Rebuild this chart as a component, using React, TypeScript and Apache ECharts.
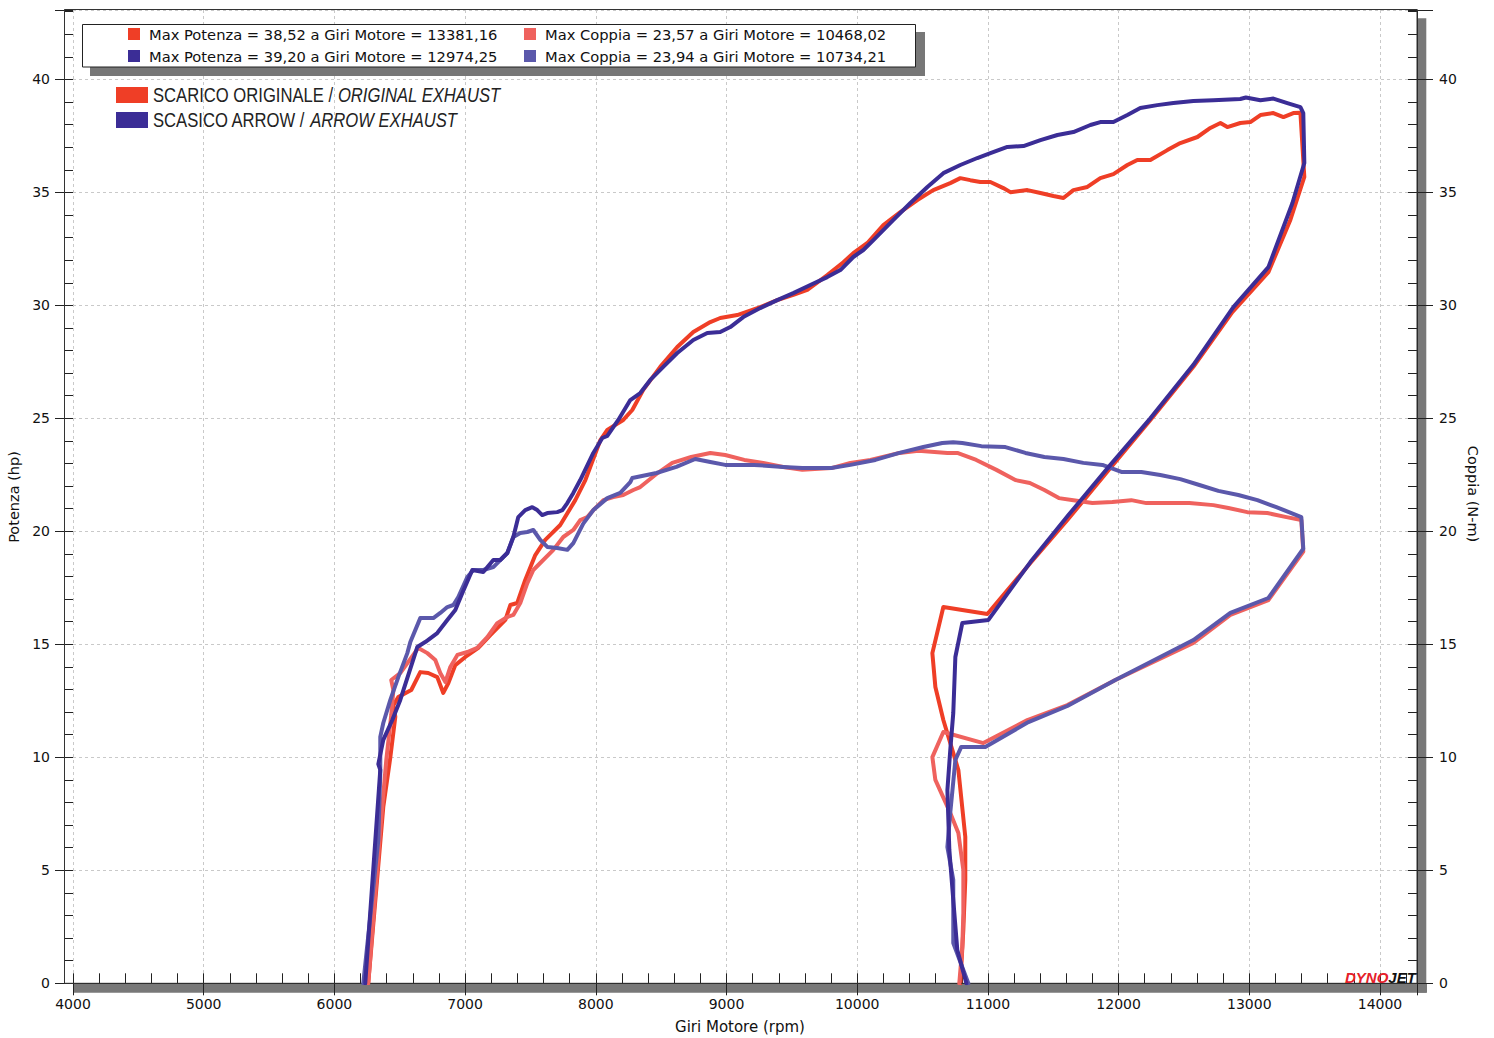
import React, { useEffect, useRef } from 'react';
import * as echarts from 'echarts';

// [rpm, value] pairs (dyno runs: ascending sweep then return)
const powerOriginal: [number, number][] = [
  [6259, 0], [6374, 7.8], [6428, 10.0], [6466, 11.8], [6451, 12.3], [6489, 12.67], [6588, 12.98], [6657, 13.77],
  [6718, 13.73], [6787, 13.55], [6833, 12.85], [6872, 13.29], [6925, 14.08], [7002, 14.44], [7101, 14.84],
  [7193, 15.41], [7308, 16.08], [7346, 16.74], [7399, 16.83], [7460, 17.85], [7537, 18.95], [7613, 19.62],
  [7728, 20.28], [7843, 21.38], [7920, 22.27], [8035, 24.04], [8088, 24.49], [8210, 24.93], [8279, 25.37],
  [8363, 26.26], [8493, 27.28], [8623, 28.16], [8746, 28.82], [8876, 29.26], [8952, 29.44], [9082, 29.57],
  [9258, 29.92], [9388, 30.23], [9511, 30.46], [9618, 30.68], [9771, 31.34], [9894, 31.91], [9970, 32.31],
  [10078, 32.76], [10200, 33.55], [10330, 34.13], [10460, 34.66], [10582, 35.1], [10712, 35.41], [10789, 35.63],
  [10865, 35.54], [10942, 35.46], [11019, 35.46], [11118, 35.19], [11172, 35.01], [11302, 35.1], [11402, 34.97],
  [11501, 34.84], [11578, 34.75], [11654, 35.1], [11761, 35.24], [11860, 35.63], [11960, 35.81], [12067, 36.21],
  [12143, 36.43], [12243, 36.43], [12373, 36.87], [12472, 37.18], [12603, 37.45], [12702, 37.85], [12779, 38.07],
  [12832, 37.89], [12931, 38.07], [13008, 38.11], [13085, 38.42], [13184, 38.51], [13261, 38.33], [13337, 38.51],
  [13391, 38.52], [13421, 35.68], [13314, 33.78], [13146, 31.47], [12870, 29.7], [12572, 27.28], [12243, 24.93],
  [11937, 22.8], [11608, 20.5], [11325, 18.6], [10996, 16.34], [10659, 16.65], [10575, 14.61], [10598, 13.11],
  [10659, 11.65], [10774, 9.44], [10827, 6.48], [10827, 4.58], [10812, 2.36], [10789, 0],
];

const powerArrow: [number, number][] = [
  [6236, 0], [6351, 9.44], [6336, 9.7], [6374, 10.77], [6443, 11.65], [6504, 12.54], [6634, 14.88], [6695, 15.1],
  [6787, 15.5], [6864, 16.08], [6925, 16.52], [6979, 17.27], [7055, 18.29], [7139, 18.2], [7216, 18.73],
  [7269, 18.73], [7323, 19.04], [7369, 19.75], [7407, 20.63], [7460, 20.94], [7514, 21.07], [7552, 20.94],
  [7590, 20.72], [7629, 20.81], [7705, 20.85], [7744, 20.94], [7782, 21.25], [7828, 21.7], [7881, 22.27],
  [7981, 23.47], [8050, 24.13], [8088, 24.22], [8172, 24.93], [8264, 25.81], [8340, 26.12], [8417, 26.7],
  [8516, 27.28], [8623, 27.89], [8746, 28.47], [8853, 28.78], [8952, 28.82], [9029, 29.04], [9128, 29.48],
  [9258, 29.88], [9388, 30.23], [9511, 30.54], [9641, 30.9], [9771, 31.25], [9871, 31.56], [9970, 32.14],
  [10047, 32.45], [10124, 32.89], [10277, 33.78], [10407, 34.53], [10537, 35.24], [10659, 35.85], [10789, 36.21],
  [10919, 36.52], [11019, 36.74], [11149, 37.01], [11272, 37.05], [11402, 37.31], [11532, 37.54], [11654, 37.67],
  [11784, 37.98], [11860, 38.11], [11960, 38.11], [12067, 38.42], [12166, 38.73], [12296, 38.86], [12419, 38.95],
  [12572, 39.04], [12725, 39.08], [12931, 39.13], [12974, 39.2], [13085, 39.08], [13184, 39.15], [13291, 38.95],
  [13391, 38.77], [13413, 38.51], [13421, 36.3], [13330, 34.53], [13146, 31.69], [12878, 29.92], [12572, 27.37],
  [12243, 25.0], [11937, 22.94], [11616, 20.72], [11325, 18.64], [11004, 16.08], [10804, 15.94], [10751, 14.44],
  [10735, 11.96], [10712, 10.32], [10690, 8.55], [10705, 5.9], [10735, 3.69], [10766, 1.47], [10835, 0],
];

const torqueOriginal: [number, number][] = [
  [6259, 0], [6351, 6.78], [6397, 9.88], [6435, 11.87], [6451, 12.98], [6435, 13.42], [6504, 13.73], [6642, 14.84],
  [6711, 14.61], [6772, 14.31], [6810, 13.73], [6849, 13.33], [6887, 14.0], [6941, 14.53], [7017, 14.66],
  [7093, 14.84], [7170, 15.32], [7246, 15.94], [7323, 16.21], [7369, 16.3], [7422, 16.83], [7476, 17.71],
  [7522, 18.29], [7575, 18.6], [7675, 19.18], [7751, 19.75], [7828, 20.06], [7881, 20.5], [7935, 20.63],
  [7981, 20.94], [8058, 21.38], [8134, 21.52], [8210, 21.61], [8287, 21.83], [8340, 21.96], [8473, 22.58],
  [8585, 23.03], [8730, 23.29], [8876, 23.47], [8990, 23.38], [9136, 23.16], [9281, 23.03], [9434, 22.85],
  [9580, 22.72], [9802, 22.8], [9948, 23.03], [10101, 23.16], [10323, 23.47], [10468, 23.57], [10690, 23.47],
  [10766, 23.47], [10911, 23.16], [11065, 22.72], [11210, 22.27], [11321, 22.14], [11432, 21.83], [11543, 21.47],
  [11654, 21.38], [11799, 21.25], [11952, 21.3], [12097, 21.38], [12212, 21.25], [12357, 21.25], [12541, 21.25],
  [12725, 21.16], [12840, 21.03], [12985, 20.85], [13138, 20.81], [13284, 20.63], [13398, 20.5], [13413, 19.1],
  [13146, 16.96], [12855, 16.3], [12572, 15.06], [11975, 13.42], [11608, 12.31], [11302, 11.65], [10965, 10.63],
  [10659, 11.12], [10575, 10.01], [10598, 9.0], [10712, 7.54], [10774, 6.65], [10812, 5.01], [10812, 3.11],
  [10804, 1.6], [10781, 0],
];

const torqueArrow: [number, number][] = [
  [6221, 0], [6336, 6.34], [6351, 9.31], [6351, 10.9], [6374, 11.52], [6428, 12.54], [6489, 13.55], [6558, 14.61],
  [6581, 15.1], [6657, 16.16], [6695, 16.16], [6757, 16.16], [6810, 16.39], [6864, 16.65], [6910, 16.74],
  [6948, 17.09], [7017, 17.98], [7063, 18.29], [7139, 18.29], [7216, 18.42], [7269, 18.73], [7323, 19.04],
  [7369, 19.75], [7422, 19.93], [7476, 19.97], [7522, 20.06], [7575, 19.62], [7629, 19.31], [7705, 19.26],
  [7782, 19.18], [7828, 19.48], [7904, 20.34], [7981, 20.94], [8088, 21.47], [8187, 21.7], [8264, 22.18],
  [8279, 22.36], [8464, 22.58], [8616, 22.85], [8761, 23.2], [8876, 23.07], [8990, 22.94], [9212, 22.94],
  [9434, 22.85], [9580, 22.8], [9802, 22.8], [9948, 22.94], [10139, 23.16], [10323, 23.47], [10506, 23.73],
  [10651, 23.91], [10734, 23.94], [10804, 23.91], [10950, 23.77], [11134, 23.73], [11287, 23.47], [11432, 23.29],
  [11578, 23.2], [11730, 23.03], [11876, 22.94], [12021, 22.63], [12174, 22.63], [12319, 22.49], [12472, 22.31],
  [12618, 22.05], [12763, 21.79], [12916, 21.61], [13062, 21.38], [13207, 21.07], [13322, 20.81], [13398, 20.63],
  [13413, 19.23], [13146, 17.05], [12855, 16.39], [12572, 15.19], [11975, 13.42], [11608, 12.27], [11310, 11.56],
  [10980, 10.46], [10796, 10.46], [10751, 9.88], [10712, 7.54], [10690, 6.03], [10735, 4.58], [10735, 1.78],
  [10850, 0],
];

const xTicks = [4000, 5000, 6000, 7000, 8000, 9000, 10000, 11000, 12000, 13000, 14000];
const yTicks = [0, 5, 10, 15, 20, 25, 30, 35, 40];

const statLines = [
  'Max Potenza = 38,52 a Giri Motore = 13381,16',
  'Max Potenza = 39,20 a Giri Motore = 12974,25',
  'Max Coppia = 23,57 a Giri Motore = 10468,02',
  'Max Coppia = 23,94 a Giri Motore = 10734,21',
];
const legendNames = [
  ['SCARICO ORIGINALE / ', 'ORIGINAL EXHAUST'],
  ['SCASICO ARROW / ', 'ARROW EXHAUST'],
];
const axisNames = { x: 'Giri Motore (rpm)', yLeft: 'Potenza (hp)', yRight: 'Coppia (N-m)' };

const RED = '#ef3e26';
const DBLUE = '#3b2d96';
const SALMON = '#ef625e';
const LBLUE = '#5b58ab';
const FONT = '"DejaVu Sans", Verdana, sans-serif';
const SANS = '"Liberation Sans", Arial, sans-serif';

const X_MIN = 4000;
const X_MAX = 14283;
const Y_MAX = 43.07;

export default function App() {
  const ref = useRef<HTMLDivElement>(null);
  useEffect(() => {
    if (!ref.current) return;
    const chart = echarts.init(ref.current, undefined, { renderer: 'svg' });
    const gridColor = '#c9c9c9';
    const lineSeries = (name: string, data: [number, number][], color: string, yIdx: number, z: number) => ({
      name,
      type: 'line',
      data,
      xAxisIndex: 0,
      yAxisIndex: yIdx,
      showSymbol: false,
      symbol: 'none',
      smooth: false,
      z,
      lineStyle: { color, width: 4, join: 'round', cap: 'round' },
      itemStyle: { color },
      emphasis: { disabled: true },
    });
    const yMajor = (position: 'left' | 'right', offset: number, tickLen: number, margin: number, split: boolean) => ({
      type: 'value',
      position,
      offset,
      min: 0,
      max: Y_MAX,
      interval: 5,
      z: 3,
      axisLine: { show: true, onZero: false, lineStyle: { color: '#222', width: 1 } },
      axisTick: { show: true, inside: false, length: tickLen, lineStyle: { color: '#222' } },
      axisLabel: {
        show: true, margin, customValues: yTicks,
        color: '#111', fontSize: 14, fontFamily: FONT,
        formatter: (v: number) => (Math.abs(v % 5) < 1e-6 && v <= 40 ? String(v) : ''),
      },
      splitLine: { show: split, lineStyle: { color: gridColor, width: 1, type: [3, 3] } },
    });
    const yMinor = (position: 'left' | 'right', offset: number) => ({
      type: 'value',
      position,
      offset,
      min: 0,
      max: Y_MAX,
      interval: 1,
      z: 3,
      axisLine: { show: false },
      axisTick: { show: true, inside: true, length: 9, lineStyle: { color: '#222' } },
      axisLabel: { show: false },
      splitLine: { show: false },
    });

    const graphics: any[] = [
      // shadow bands of the plot frame
      { type: 'rect', z: 1, shape: { x: 73, y: 983.5, width: 1354, height: 9.2 }, style: { fill: '#787878' } },
      { type: 'rect', z: 1, shape: { x: 1417, y: 18.3, width: 9.3, height: 974.4 }, style: { fill: '#787878' } },
      // frame
      { type: 'rect', z: 5, shape: { x: 64.5, y: 9.5, width: 1352.5, height: 973.8 }, style: { fill: 'none', stroke: '#333', lineWidth: 1 } },
      // stats box
      { type: 'rect', z: 10, shape: { x: 90, y: 32, width: 835, height: 44 }, style: { fill: '#777' } },
      { type: 'rect', z: 11, shape: { x: 82.5, y: 24.5, width: 833, height: 42.5 }, style: { fill: '#fff', stroke: '#222', lineWidth: 1 } },
      { type: 'rect', z: 12, shape: { x: 128, y: 28, width: 12, height: 12 }, style: { fill: RED } },
      { type: 'rect', z: 12, shape: { x: 128, y: 50, width: 12, height: 12 }, style: { fill: DBLUE } },
      { type: 'rect', z: 12, shape: { x: 524, y: 28, width: 12, height: 12 }, style: { fill: SALMON } },
      { type: 'rect', z: 12, shape: { x: 524, y: 50, width: 12, height: 12 }, style: { fill: LBLUE } },
      { type: 'text', z: 12, x: 149, y: 34, style: { text: statLines[0], fill: '#111', fontSize: 14.7, fontFamily: FONT, verticalAlign: 'middle' } },
      { type: 'text', z: 12, x: 149, y: 56, style: { text: statLines[1], fill: '#111', fontSize: 14.7, fontFamily: FONT, verticalAlign: 'middle' } },
      { type: 'text', z: 12, x: 545, y: 34, style: { text: statLines[2], fill: '#111', fontSize: 14.7, fontFamily: FONT, verticalAlign: 'middle' } },
      { type: 'text', z: 12, x: 545, y: 56, style: { text: statLines[3], fill: '#111', fontSize: 14.7, fontFamily: FONT, verticalAlign: 'middle' } },
      // series legend
      { type: 'rect', z: 12, shape: { x: 116, y: 87, width: 32, height: 16 }, style: { fill: RED } },
      { type: 'rect', z: 12, shape: { x: 116, y: 112, width: 32, height: 16 }, style: { fill: DBLUE } },
      ...legendNames.map((pair, i) => ({
        type: 'text', z: 12, x: 153, y: 95 + i * 25, scaleX: 0.832,
        style: {
          text: `{n|${pair[0]}}{i|${pair[1]}}`,
          verticalAlign: 'middle',
          rich: {
            n: { fontFamily: SANS, fontSize: 20, fill: '#222' },
            i: { fontFamily: SANS, fontSize: 20, fill: '#222', fontStyle: 'italic' },
          },
        },
      })),
      // axis names
      { type: 'text', z: 12, x: 740, y: 1027, style: { text: axisNames.x, fill: '#111', fontSize: 15, fontFamily: FONT, align: 'center', verticalAlign: 'middle' } },
      { type: 'text', z: 12, x: 14, y: 497, rotation: Math.PI / 2, style: { text: axisNames.yLeft, fill: '#111', fontSize: 14.5, fontFamily: FONT, align: 'center', verticalAlign: 'middle' } },
      { type: 'text', z: 12, x: 1473, y: 494, rotation: -Math.PI / 2, style: { text: axisNames.yRight, fill: '#111', fontSize: 14.5, fontFamily: FONT, align: 'center', verticalAlign: 'middle' } },
      // logo
      {
        type: 'text', z: 12, x: 1345, y: 977.5,
        style: {
          text: '{d|DYNO}{j|JET}',
          verticalAlign: 'middle',
          rich: {
            d: { fill: '#e5202a', fontSize: 15, fontWeight: 900, fontStyle: 'italic', fontFamily: SANS },
            j: { fill: '#111', fontSize: 15, fontWeight: 900, fontStyle: 'italic', fontFamily: SANS },
          },
        },
      },
    ];

    chart.setOption({
      animation: false,
      backgroundColor: '#ffffff',
      grid: { left: 73, top: 10, right: 77, bottom: 54.7, containLabel: false },
      xAxis: [
        {
          type: 'value', position: 'bottom', min: X_MIN, max: X_MAX, interval: 1000, z: 3,
          axisLine: { show: true, onZero: false, lineStyle: { color: '#222', width: 1 } },
          axisTick: { show: true, inside: false, length: 12, lineStyle: { color: '#222' } },
          axisLabel: {
            show: true, margin: 14, customValues: xTicks,
            color: '#111', fontSize: 14, fontFamily: FONT,
            formatter: (v: number) => (v % 1000 === 0 ? String(v) : ''),
          },
          splitLine: { show: true, lineStyle: { color: gridColor, width: 1, type: [3, 3] } },
        },
        {
          type: 'value', position: 'bottom', min: X_MIN, max: X_MAX, interval: 200, z: 3,
          axisLine: { show: false },
          axisTick: { show: true, inside: true, length: 10, lineStyle: { color: '#222' } },
          axisLabel: { show: false },
          splitLine: { show: false },
        },
      ],
      yAxis: [
        yMajor('left', 9, 9, 14, true),
        yMinor('left', 9),
        yMajor('right', 0, 16, 22, false),
        yMinor('right', 0),
      ],
      series: [
        lineSeries('Potenza originale', powerOriginal, RED, 0, 4),
        lineSeries('Coppia originale', torqueOriginal, SALMON, 2, 5),
        lineSeries('Coppia Arrow', torqueArrow, LBLUE, 2, 6),
        lineSeries('Potenza Arrow', powerArrow, DBLUE, 0, 7),
      ],
      graphic: graphics,
    });
    return () => chart.dispose();
  }, []);
  return <div ref={ref} style={{ position: 'fixed', left: 0, top: 0, width: 1494, height: 1038 }} />;
}
